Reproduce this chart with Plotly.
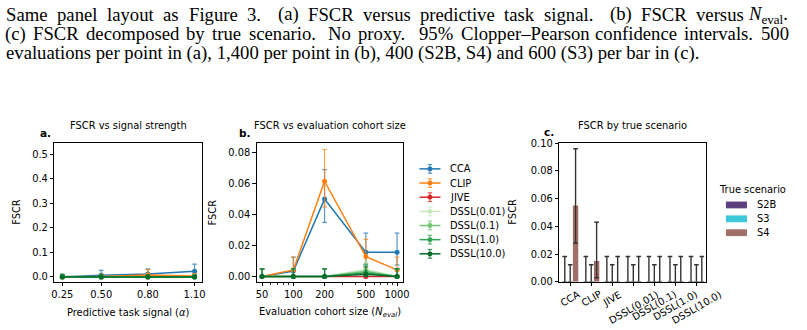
import plotly.graph_objects as go

W, H = 807, 330

# ---------------- data ----------------
methods = ["CCA", "CLIP", "JIVE", "DSSL(0.01)", "DSSL(0.1)", "DSSL(1.0)", "DSSL(10.0)"]
method_colors = ["#1f77b4", "#ff7f0e", "#d62728", "#c7e9c0", "#74c476", "#31a354", "#006d2c"]

# Panel a: FSCR vs predictive task signal
alpha_vals = [0.25, 0.50, 0.80, 1.10]
alpha_ticktext = ["0.25", "0.50", "0.80", "1.10"]
a_cca = [0.000, 0.007, 0.012, 0.023]
a_cca_lo = [0.000, 0.002, 0.004, 0.011]
a_cca_hi = [0.0074, 0.027, 0.033, 0.052]
a_clip = [0.000, 0.002, 0.008, 0.004]
a_clip_lo = [0.000, 0.0002, 0.002, 0.0005]
a_clip_hi = [0.0074, 0.012, 0.030, 0.014]
a_jive = [0.0, 0.0, 0.0, 0.0]
a_jive_lo = [0.0, 0.0, 0.0, 0.0]
a_jive_hi = [0.0074, 0.0074, 0.0074, 0.0074]
a_d001 = [0.0, 0.0, 0.0, 0.0]
a_d001_lo = [0.0, 0.0, 0.0, 0.0]
a_d001_hi = [0.0074, 0.0074, 0.0074, 0.0074]
a_d01 = [0.0, 0.0, 0.0, 0.0]
a_d01_lo = [0.0, 0.0, 0.0, 0.0]
a_d01_hi = [0.0074, 0.0074, 0.0074, 0.0074]
a_d1 = [0.002, 0.0, 0.0, 0.0]
a_d1_lo = [0.0, 0.0, 0.0, 0.0]
a_d1_hi = [0.013, 0.0074, 0.0074, 0.0074]
a_d10 = [0.0, 0.0, 0.0, 0.0]
a_d10_lo = [0.0, 0.0, 0.0, 0.0]
a_d10_hi = [0.0074, 0.0074, 0.0074, 0.0074]

# Panel b: FSCR vs evaluation cohort size
neval_vals = [50, 100, 200, 500, 1000]
neval_ticktext = ["50", "100", "200", "500", "1000"]
b_cca = [0.000, 0.0036, 0.050, 0.0157, 0.0157]
b_cca_lo = [0.000, 0.0004, 0.035, 0.0075, 0.0075]
b_cca_hi = [0.005, 0.0125, 0.069, 0.028, 0.028]
b_clip = [0.000, 0.0043, 0.0615, 0.0129, 0.0043]
b_clip_lo = [0.000, 0.0005, 0.045, 0.006, 0.0009]
b_clip_hi = [0.005, 0.0125, 0.082, 0.024, 0.0125]
b_jive = [0.0, 0.0, 0.0, 0.0, 0.0]
b_jive_lo = [0.0, 0.0, 0.0, 0.0, 0.0]
b_jive_hi = [0.005, 0.005, 0.005, 0.005, 0.005]
b_d001 = [0.0, 0.0, 0.0, 0.0045, 0.0]
b_d001_lo = [0.0, 0.0, 0.0, 0.0012, 0.0]
b_d001_hi = [0.005, 0.005, 0.005, 0.0095, 0.005]
b_d01 = [0.0, 0.0, 0.0, 0.0035, 0.0]
b_d01_lo = [0.0, 0.0, 0.0, 0.0008, 0.0]
b_d01_hi = [0.005, 0.005, 0.005, 0.0085, 0.005]
b_d1 = [0.0, 0.0, 0.0, 0.0025, 0.0]
b_d1_lo = [0.0, 0.0, 0.0, 0.0005, 0.0]
b_d1_hi = [0.005, 0.005, 0.005, 0.0076, 0.005]
b_d10 = [0.0, 0.0, 0.0, 0.0015, 0.0]
b_d10_lo = [0.0, 0.0, 0.0, 0.0002, 0.0]
b_d10_hi = [0.005, 0.005, 0.005, 0.0063, 0.005]

# Panel c: FSCR by true scenario
scenarios = ["S2B", "S3", "S4"]
scenario_colors = ["#5b3f7e", "#3cc8d8", "#a06f67"]
c_s2b = [0.0, 0.0, 0.0, 0.0, 0.0, 0.0, 0.0]
c_s2b_lo = [0.0, 0.0, 0.0, 0.0, 0.0, 0.0, 0.0]
c_s2b_hi = [0.0183, 0.0183, 0.0183, 0.0183, 0.0183, 0.0183, 0.0183]
c_s3 = [0.0, 0.0, 0.0, 0.0, 0.0, 0.0, 0.0]
c_s3_lo = [0.0, 0.0, 0.0, 0.0, 0.0, 0.0, 0.0]
c_s3_hi = [0.0123, 0.0123, 0.0123, 0.0123, 0.0123, 0.0123, 0.0123]
c_s4 = [0.055, 0.015, 0.0, 0.0, 0.0, 0.0, 0.0]
c_s4_lo = [0.028, 0.003, 0.0, 0.0, 0.0, 0.0, 0.0]
c_s4_hi = [0.096, 0.043, 0.0183, 0.0183, 0.0183, 0.0183, 0.0183]

# caption lines (words of the two justified lines, and the last line)
caption_line1 = ["Same", "panel", "layout", "as", "Figure", "3.", "(a)", "FSCR", "versus",
                 "predictive", "task", "signal.", "(b)", "FSCR", "versus", "<i>N</i><sub>eval</sub>."]
caption_line2 = ["(c)", "FSCR", "decomposed", "by", "true", "scenario.", "No", "proxy.", "95%",
                 "Clopper–Pearson", "confidence", "intervals.", "500"]
caption_line3 = "evaluations per point in (a), 1,400 per point in (b), 400 (S2B, S4) and 600 (S3) per bar in (c)."

a_series = [(a_cca, a_cca_lo, a_cca_hi), (a_clip, a_clip_lo, a_clip_hi),
            (a_jive, a_jive_lo, a_jive_hi), (a_d001, a_d001_lo, a_d001_hi),
            (a_d01, a_d01_lo, a_d01_hi), (a_d1, a_d1_lo, a_d1_hi),
            (a_d10, a_d10_lo, a_d10_hi)]
b_series = [(b_cca, b_cca_lo, b_cca_hi), (b_clip, b_clip_lo, b_clip_hi),
            (b_jive, b_jive_lo, b_jive_hi), (b_d001, b_d001_lo, b_d001_hi),
            (b_d01, b_d01_lo, b_d01_hi), (b_d1, b_d1_lo, b_d1_hi),
            (b_d10, b_d10_lo, b_d10_hi)]
c_series = [(c_s2b, c_s2b_lo, c_s2b_hi), (c_s3, c_s3_lo, c_s3_hi), (c_s4, c_s4_lo, c_s4_hi)]

# ---------------- helpers ----------------
FONT = "DejaVu Sans"
FS = 9.9


def px(x):
    return x / W


def py(y):
    return 1 - y / H


def hex_rgba(h, a):
    h = h.lstrip("#")
    return "rgba(%d,%d,%d,%.2f)" % (int(h[0:2], 16), int(h[2:4], 16), int(h[4:6], 16), a)


fig = go.Figure()

for (vals, lo, hi), name, col in zip(a_series, methods, method_colors):
    fig.add_trace(go.Scatter(
        x=alpha_vals, y=vals, mode="lines+markers", name=name, showlegend=False,
        line=dict(color=col, width=1.5), marker=dict(color=col, size=5),
        error_y=dict(type="data", symmetric=False,
                     array=[h - v for h, v in zip(hi, vals)],
                     arrayminus=[v - l for v, l in zip(vals, lo)],
                     color=hex_rgba(col, 0.75), thickness=1.2, width=2.3),
        xaxis="x", yaxis="y"))

for (vals, lo, hi), name, col in zip(b_series, methods, method_colors):
    fig.add_trace(go.Scatter(
        x=neval_vals, y=vals, mode="lines+markers", name=name, showlegend=False,
        line=dict(color=col, width=1.5), marker=dict(color=col, size=5),
        error_y=dict(type="data", symmetric=False,
                     array=[h - v for h, v in zip(hi, vals)],
                     arrayminus=[v - l for v, l in zip(vals, lo)],
                     color=hex_rgba(col, 0.75), thickness=1.2, width=2.3),
        xaxis="x2", yaxis="y2"))

cat_pos = list(range(len(methods)))
for (vals, lo, hi), name, col in zip(c_series, scenarios, scenario_colors):
    fig.add_trace(go.Bar(
        x=cat_pos, y=vals, name=name, showlegend=False,
        marker=dict(color=col, line=dict(width=0)),
        error_y=dict(type="data", symmetric=False,
                     array=[h - v for h, v in zip(hi, vals)],
                     arrayminus=[v - l for v, l in zip(vals, lo)],
                     color="#333333", thickness=1.4, width=2.3),
        xaxis="x3", yaxis="y3"))

axis_common = dict(showline=True, mirror=True, linecolor="black", linewidth=1,
                   ticks="outside", ticklen=3.5, tickwidth=1, tickcolor="black",
                   showgrid=False, zeroline=False,
                   tickfont=dict(family=FONT, size=FS, color="black"))

ydom = [py(285.5), py(141.8)]

fig.update_layout(
    width=W, height=H, margin=dict(l=0, r=0, t=0, b=0),
    paper_bgcolor="white", plot_bgcolor="white",
    barmode="group", bargap=0.23, bargroupgap=0,
    showlegend=False,
    xaxis=dict(domain=[px(52), px(202)], range=[0.199, 1.151],
               tickvals=alpha_vals, ticktext=alpha_ticktext, anchor="y", **axis_common),
    yaxis=dict(domain=ydom, range=[-0.02, 0.548], tickvals=[0, 0.1, 0.2, 0.3, 0.4, 0.5],
               tickformat=".1f", anchor="x", **axis_common),
    xaxis2=dict(domain=[px(257), px(405)], type="log", range=[1.648, 3.057],
                tickvals=neval_vals, ticktext=neval_ticktext, anchor="y2",
                minor=dict(tickvals=[60, 70, 80, 90, 300, 400, 600, 700, 800, 900],
                           ticks="outside", ticklen=2, tickwidth=0.8, tickcolor="black",
                           showgrid=False),
                **axis_common),
    yaxis2=dict(domain=ydom, range=[-0.0034, 0.0865],
                tickvals=[0, 0.02, 0.04, 0.06, 0.08], tickformat=".2f", anchor="x2", **axis_common),
    xaxis3=dict(domain=[px(563.3), px(711.7)], range=[-0.516, 6.45],
                tickvals=cat_pos, showticklabels=False, anchor="y3", **axis_common),
    yaxis3=dict(domain=ydom, range=[0, 0.1005],
                tickvals=[0, 0.02, 0.04, 0.06, 0.08, 0.10], tickformat=".2f", anchor="x3",
                **axis_common),
)

ann = []
shapes = []


def text(x, y, s, size=FS, xanchor="center", angle=0, family=FONT, bold=False):
    ann.append(dict(x=px(x), y=py(y), xref="paper", yref="paper", text=("<b>%s</b>" % s) if bold else s,
                    showarrow=False, xanchor=xanchor, yanchor="middle", textangle=angle,
                    font=dict(family=family, size=size, color="black")))


# ---- caption: serif, justified lines laid out word by word ----
CAP = "Liberation Serif"
CS = 18.7
TIMES = {" ": 250, "(": 333, ")": 333, ".": 250, ",": 250, "%": 833, "–": 500,
         "A": 722, "B": 667, "C": 667, "D": 722, "F": 556, "N": 722, "P": 556, "R": 667, "S": 556,
         "a": 444, "b": 500, "c": 444, "d": 500, "e": 444, "f": 333, "g": 500, "h": 500, "i": 278,
         "k": 500, "l": 278, "m": 778, "n": 500, "o": 500, "p": 500, "r": 333, "s": 389, "t": 278,
         "u": 500, "v": 500, "x": 500, "y": 500}


def word_width(w):
    if "<sub>" in w:
        return (667 + 0.7 * 1666 + 250) / 1000.0 * CS
    return sum(TIMES.get(ch, 500) for ch in w) / 1000.0 * CS


def justify(words, x0, x1, ycen):
    widths = [word_width(w) for w in words]
    weights = [1.7 if w.endswith(".") else 1.0 for w in words[:-1]]
    unit = (x1 - x0 - sum(widths)) / sum(weights)
    x = x0
    for i, w in enumerate(words):
        yy = ycen + (1.3 if "<sub>" in w else 0)
        if i == len(words) - 1:
            text(x1, yy, w, CS, "right", family=CAP)
        else:
            text(x, yy, w, CS, "left", family=CAP)
            x += widths[i] + unit * weights[i]


justify(caption_line1, 1.0, 797.0, 9.3)
justify(caption_line2, 0.3, 798.0, 29.8)
text(1, 50.0, caption_line3, CS, "left", family=CAP)

# panel titles / letters
text(127, 124, "FSCR vs signal strength")
text(331, 124, "FSCR vs evaluation cohort size")
text(637.5, 124, "FSCR by true scenario")
text(35, 132, "a.", 10.5, "left", bold=True)
text(237, 132, "b.", 10.5, "left", bold=True)
text(546, 131, "c.", 10.5, "left", bold=True)

# axis titles
text(13, 213.5, "FSCR", angle=-90)
text(212, 213.5, "FSCR", angle=-90)
text(515, 213.5, "FSCR", angle=-90)
text(127, 317, "Predictive task signal (<i>α</i>)")
text(331, 317, "Evaluation cohort size (<i>N</i><sub><i>eval</i></sub>)")

# rotated category labels of panel c, centred under their ticks
for pos, name in zip(cat_pos, methods):
    ann.append(dict(x=pos, xref="x3", y=py(290.0), yref="paper", text=name, showarrow=False,
                    xanchor="center", yanchor="top", textangle=-30,
                    font=dict(family=FONT, size=FS, color="black")))

# legend for panels a/b
for i, (name, col) in enumerate(zip(methods, method_colors)):
    y = 169 + 14.6 * i
    cx = 432.3
    shapes.append(dict(type="line", xref="paper", yref="paper", x0=px(421.7), x1=px(443),
                       y0=py(y), y1=py(y), line=dict(color=col, width=1.5)))
    shapes.append(dict(type="line", xref="paper", yref="paper", x0=px(cx), x1=px(cx),
                       y0=py(y - 4.5), y1=py(y + 4.5), line=dict(color=hex_rgba(col, 0.75), width=1.2)))
    for yy in (y - 4.5, y + 4.5):
        shapes.append(dict(type="line", xref="paper", yref="paper", x0=px(cx - 2.3), x1=px(cx + 2.3),
                           y0=py(yy), y1=py(yy), line=dict(color=hex_rgba(col, 0.75), width=1.2)))
    shapes.append(dict(type="circle", xref="paper", yref="paper", x0=px(cx - 2.5), x1=px(cx + 2.5),
                       y0=py(y + 2.5), y1=py(y - 2.5), fillcolor=col, line=dict(width=0)))
    text(451, y, name, FS, "left")

# legend for panel c
text(722.5, 190.7, "True scenario", FS, "left")
for i, (name, col) in enumerate(zip(scenarios, scenario_colors)):
    y = 206.2 + 14.3 * i
    shapes.append(dict(type="rect", xref="paper", yref="paper", x0=px(732), x1=px(753.3),
                       y0=py(y + 3.5), y1=py(y - 3.5), fillcolor=col, line=dict(width=0)))
    text(761, y, name, FS, "left")

fig.update_layout(annotations=ann, shapes=shapes)
fig.write_html("out.html", config={"displayModeBar": False, "staticPlot": True},
               post_script="document.body.style.margin='0';document.body.style.overflow='hidden';")
